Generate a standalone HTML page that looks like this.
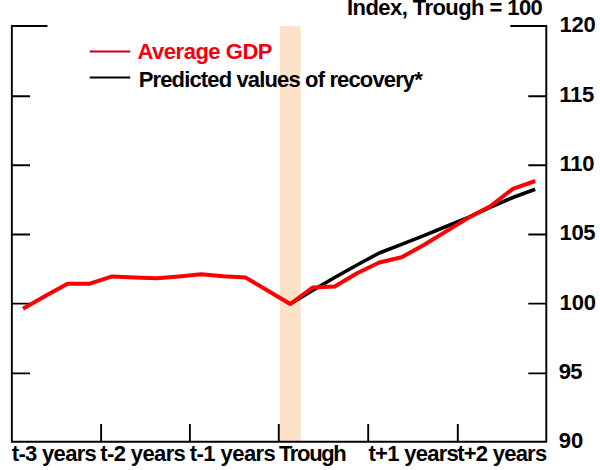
<!DOCTYPE html>
<html><head><meta charset="utf-8"><style>
html,body{margin:0;padding:0;background:#fff;}
body{width:600px;height:470px;overflow:hidden;font-family:"Liberation Sans",sans-serif;}
svg{display:block;}
</style></head><body>
<svg width="600" height="470" viewBox="0 0 600 470">
<rect x="279.9" y="26" width="20.7" height="415.7" fill="#FEE2C8"/>
<path d="M47.5 26 H11.85 V441.7 H546.3 V26 H510.3" fill="none" stroke="#000" stroke-width="1.9" stroke-linejoin="miter"/>
<path d="M11.85 96.2 H30 M546.3 96.2 H528.3" stroke="#000" stroke-width="1.9"/>
<path d="M11.85 165.2 H30 M546.3 165.2 H528.3" stroke="#000" stroke-width="1.9"/>
<path d="M11.85 234.5 H30 M546.3 234.5 H528.3" stroke="#000" stroke-width="1.9"/>
<path d="M11.85 303.6 H30 M546.3 303.6 H528.3" stroke="#000" stroke-width="1.9"/>
<path d="M11.85 373.4 H30 M546.3 373.4 H528.3" stroke="#000" stroke-width="1.9"/>
<path d="M101.1 441.7 V424" stroke="#000" stroke-width="1.9"/>
<path d="M189.9 441.7 V424" stroke="#000" stroke-width="1.9"/>
<path d="M278.8 441.7 V424" stroke="#000" stroke-width="1.9"/>
<path d="M368.2 441.7 V424" stroke="#000" stroke-width="1.9"/>
<path d="M457.8 441.7 V424" stroke="#000" stroke-width="1.9"/>
<polyline points="290.2,304.0 312.5,290.5 334.7,277.5 357.0,265.0 379.3,253.0 401.6,244.4 423.8,235.6 446.1,226.5 468.4,217.3 490.6,207.0 512.9,197.5 535.2,189.3" fill="none" stroke="#000" stroke-width="3.6" stroke-linejoin="round"/>
<polyline points="23.0,308.8 45.3,296.0 67.5,283.7 89.8,283.7 112.1,276.4 134.3,277.4 156.6,278.3 178.9,276.5 201.1,274.3 223.4,276.3 245.7,277.6 267.9,290.7 290.2,304.0 312.5,287.5 334.7,286.5 357.0,273.3 379.3,262.5 401.6,257.3 423.8,245.0 446.1,231.4 468.4,217.8 490.6,206.0 512.9,188.8 535.2,181.0" fill="none" stroke="#F00" stroke-width="4" stroke-linejoin="round"/>
<path d="M89.7 51.5 H130.3" stroke="#C00010" stroke-width="2"/>
<path d="M89.7 77.5 H130.3" stroke="#000" stroke-width="2"/>
<text transform="translate(137.45,59.20) scale(1.0,1.04)" letter-spacing="-0.472" font-family="Liberation Sans" font-weight="bold" font-size="22" fill="#F00010">Average GDP</text>
<text transform="translate(138.73,86.50) scale(1.0,0.97)" letter-spacing="-0.852" font-family="Liberation Sans" font-weight="bold" font-size="22" fill="#000">Predicted values of recovery*</text>
<text transform="translate(347.03,15.10) scale(1.0,0.97)" letter-spacing="-0.558" font-family="Liberation Sans" font-weight="bold" font-size="22" fill="#000">Index, Trough = 100</text>
<text transform="translate(559.61,31.90) scale(1.0,0.99)" letter-spacing="-0.309" font-family="Liberation Sans" font-weight="bold" font-size="22" fill="#000">120</text>
<text transform="translate(559.31,102.10) scale(1.0,0.99)" letter-spacing="-0.304" font-family="Liberation Sans" font-weight="bold" font-size="22" fill="#000">115</text>
<text transform="translate(559.61,171.10) scale(1.0,0.99)" letter-spacing="-0.309" font-family="Liberation Sans" font-weight="bold" font-size="22" fill="#000">110</text>
<text transform="translate(559.61,240.40) scale(1.0,0.99)" letter-spacing="-0.454" font-family="Liberation Sans" font-weight="bold" font-size="22" fill="#000">105</text>
<text transform="translate(559.61,309.50) scale(1.0,0.99)" letter-spacing="-0.209" font-family="Liberation Sans" font-weight="bold" font-size="22" fill="#000">100</text>
<text transform="translate(558.64,379.30) scale(1.0,0.99)" letter-spacing="-0.496" font-family="Liberation Sans" font-weight="bold" font-size="22" fill="#000">95</text>
<text transform="translate(558.64,447.60) scale(1.0,0.99)" letter-spacing="0.094" font-family="Liberation Sans" font-weight="bold" font-size="22" fill="#000">90</text>
<text transform="translate(11.73,460.80) scale(1.0,0.97)" letter-spacing="-0.667" font-family="Liberation Sans" font-weight="bold" font-size="22" fill="#000">t-3 years</text>
<text transform="translate(100.23,460.80) scale(1.0,0.97)" letter-spacing="-0.604" font-family="Liberation Sans" font-weight="bold" font-size="22" fill="#000">t-2 years</text>
<text transform="translate(189.73,460.80) scale(1.0,0.97)" letter-spacing="-0.542" font-family="Liberation Sans" font-weight="bold" font-size="22" fill="#000">t-1 years</text>
<text transform="translate(278.95,460.80) scale(1.0,0.97)" letter-spacing="-1.329" font-family="Liberation Sans" font-weight="bold" font-size="22" fill="#000">Trough</text>
<text transform="translate(368.43,460.80) scale(1.0,0.97)" letter-spacing="-0.694" font-family="Liberation Sans" font-weight="bold" font-size="22" fill="#000">t+1 years</text>
<text transform="translate(457.23,460.80) scale(1.0,0.97)" letter-spacing="-0.757" font-family="Liberation Sans" font-weight="bold" font-size="22" fill="#000">t+2 years</text>
</svg>
</body></html>
